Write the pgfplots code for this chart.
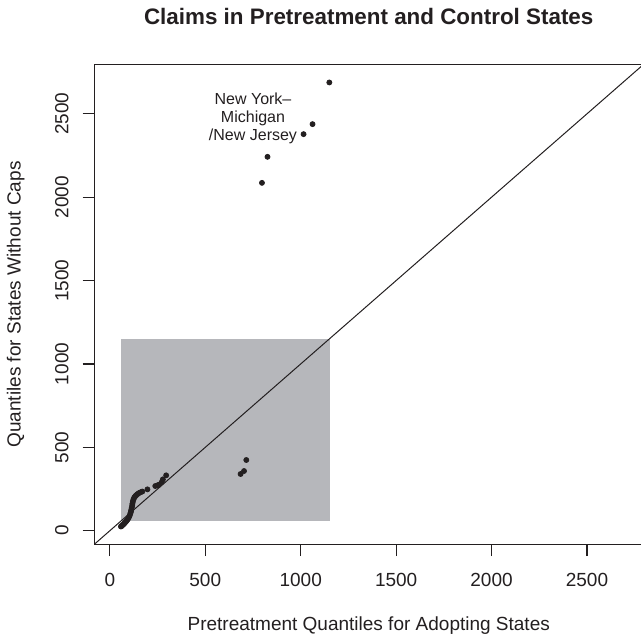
\documentclass[border=0pt]{standalone}
\usepackage{fontspec}
\setmainfont{Liberation Sans}
\usepackage{pgfplots}
\pgfplotsset{compat=1.18}
\definecolor{boxgray}{RGB}{182,183,187}
\definecolor{txt}{RGB}{35,31,32}
\pgfplotstableread{
x y
58 25
61 28
64 31
68 35
72 39
76 44
80 49
84 54
88 60
92 66
96 73
100 81
103 89
106 98
109 108
111 118
113 128
115 139
117 150
118 161
120 172
122 182
125 192
129 200
133 207
138 213
144 219
151 225
160 230
170 235
197 248
238 268
250 272
256 275
272 292
278 308
295 332
685 340
703 358
715 424
797 2086
826 2242
1015 2378
1062 2438
1150 2688
}\qq
\begin{document}
\begin{tikzpicture}
\begin{axis}[
  at={(0,0)}, anchor=south west,
  scale only axis, width=274.45pt, height=239.8pt,
  xmin=-81.5, xmax=2794.5, ymin=-81.5, ymax=2794.5,
  axis line style={line width=0.7pt, txt},
  xtick={0,500,1000,1500,2000,2500},
  ytick={0,500,1000,1500,2000,2500},
  tick align=outside, tick pos=left,
  major tick length=5.85pt,
  every tick/.style={txt, line width=0.6pt},
  /pgf/number format/assume math mode=true,
  /pgf/number format/set thousands separator={},
  ticklabel style={font=\fontsize{9.5}{11}\selectfont, text=txt},
  xticklabel style={anchor=base, inner sep=0pt, yshift=-15pt},
  yticklabel style={xshift=-7.15pt, rotate=90, anchor=base, inner sep=0pt},
  title={Claims in Pretreatment and Control States},
  every axis title/.style={at={(axis description cs:0.5,1.08278)}, anchor=base, inner sep=0pt, font=\bfseries\fontsize{11.2}{13}\selectfont, text=txt},
  xlabel={Pretreatment Quantiles for Adopting States},
  xlabel style={at={(axis description cs:0.5,-0.17994)}, anchor=base, inner sep=0pt, font=\fontsize{9.5}{11}\selectfont, text=txt},
  ylabel={Quantiles for States Without Caps},
  ylabel style={at={(axis description cs:-0.13427,0.5)}, anchor=base, inner sep=0pt, font=\fontsize{9.5}{11}\selectfont, text=txt},
  clip=true,
]
\addplot[fill=boxgray, draw=none] coordinates {(59,60) (1155,60) (1155,1150) (59,1150)} -- cycle;
\addplot[txt, line width=0.5pt] coordinates {(-81.5,-81.5) (2794.5,2794.5)};
\addplot[only marks, mark=*, mark size=1.25pt, color=txt] table[x=x,y=y] {\qq};
\node[align=center, font=\fontsize{8}{9}\selectfont, text=txt, inner sep=0pt] at (axis cs:750,2474) {New York–\\Michigan\\/New Jersey};
\end{axis}
\pgfresetboundingbox
\path (-47.15pt,-46.35pt) rectangle (273.35pt,272.15pt);
\end{tikzpicture}
\end{document}
